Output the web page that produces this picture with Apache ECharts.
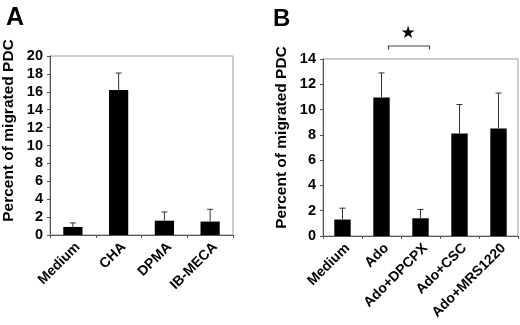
<!DOCTYPE html>
<html><head><meta charset="utf-8">
<script src="https://cdn.jsdelivr.net/npm/echarts@6/dist/echarts.min.js"></script>
<style>html,body{margin:0;padding:0;background:#fff}#c{width:520px;height:325px}</style>
</head><body><div id="c"></div>
<script>
const catsA = ['Medium', 'CHA', 'DPMA', 'IB-MECA'];
const valsA = [0.9, 16.2, 1.6, 1.5];
const errA = [0.45, 1.9, 0.97, 1.37];
const ticksA = [0, 2, 4, 6, 8, 10, 12, 14, 16, 18, 20];

const catsB = ['Medium', 'Ado', 'Ado+DPCPX', 'Ado+CSC', 'Ado+MRS1220'];
const valsB = [1.3, 10.95, 1.4, 8.1, 8.5];
const errB = [0.9, 1.95, 0.7, 2.3, 2.8];
const ticksB = [0, 2, 4, 6, 8, 10, 12, 14];

const yTitle = 'Percent of migrated PDC';
const FONT = '"Liberation Sans", Arial, sans-serif';

const chart = echarts.init(document.getElementById('c'), null, {renderer: 'canvas'});

function yAxisCfg(gi, ticks, pad) {
  return {
    gridIndex: gi, type: 'value', min: ticks[0], max: ticks[ticks.length - 1], interval: ticks[1] - ticks[0],
    name: yTitle, nameLocation: 'middle', nameGap: 33,
    nameTextStyle: {fontFamily: FONT, fontWeight: 'bold', fontSize: 15.5, color: '#000', padding: [0, 0, 0, pad]},
    axisLine: {show: true, lineStyle: {color: '#555', width: 1}},
    axisTick: {show: true, length: 3, lineStyle: {color: '#555'}},
    axisLabel: {fontFamily: FONT, fontWeight: 'bold', fontSize: 14.5, color: '#000', margin: 7},
    splitLine: {show: false}
  };
}
function xAxisCfg(gi, cats) {
  return {
    gridIndex: gi, type: 'category', data: cats, boundaryGap: true,
    axisLine: {show: true, lineStyle: {color: '#555', width: 1}},
    axisTick: {show: true, length: 3, inside: false, lineStyle: {color: '#555'}},
    axisLabel: {fontFamily: FONT, fontWeight: 'bold', fontSize: 14, color: '#000', rotate: 45, margin: 5, interval: 0, verticalAlign: 'top'}
  };
}
function errSeries(xi, yi, vals, errs) {
  return {
    type: 'custom', xAxisIndex: xi, yAxisIndex: yi, z: 5,
    data: vals.map((v, i) => [i, v, v + errs[i]]),
    renderItem: function (params, api) {
      const p0 = api.coord([api.value(0), api.value(1)]);
      const p1 = api.coord([api.value(0), api.value(2)]);
      const st = {stroke: '#333', lineWidth: 1};
      return {type: 'group', children: [
        {type: 'line', shape: {x1: p0[0], y1: p0[1], x2: p1[0], y2: p1[1]}, style: st},
        {type: 'line', shape: {x1: p1[0] - 3, y1: p1[1], x2: p1[0] + 3, y2: p1[1]}, style: st}
      ]};
    }
  };
}

chart.setOption({
  animation: false,
  title: [
    {text: 'A', left: 1, top: 1, textStyle: {fontFamily: FONT, fontWeight: 'bold', fontSize: 25, color: '#000'}},
    {text: 'B', left: 268, top: 2, textStyle: {fontFamily: FONT, fontWeight: 'bold', fontSize: 24, color: '#000'}}
  ],
  grid: [
    {left: 49, width: 184, top: 56, height: 179, show: true, borderColor: '#999', borderWidth: 1, backgroundColor: '#fff'},
    {left: 323, width: 195, top: 59, height: 177, show: true, borderColor: '#999', borderWidth: 1, backgroundColor: '#fff'}
  ],
  xAxis: [xAxisCfg(0, catsA), xAxisCfg(1, catsB)],
  yAxis: [yAxisCfg(0, ticksA, 30), yAxisCfg(1, ticksB, 20)],
  series: [
    {type: 'bar', xAxisIndex: 0, yAxisIndex: 0, data: valsA, barWidth: '42%', itemStyle: {color: '#000'}},
    errSeries(0, 0, valsA, errA),
    {type: 'bar', xAxisIndex: 1, yAxisIndex: 1, data: valsB, barWidth: '42%', itemStyle: {color: '#000'}},
    errSeries(1, 1, valsB, errB),
    {
      type: 'custom', xAxisIndex: 1, yAxisIndex: 1, clip: false, z: 6,
      data: [[1, 2]],
      renderItem: function (params, api) {
        const a = api.coord([api.value(0), 0]);
        const b = api.coord([api.value(1), 0]);
        const top = api.coord([0, 14])[1];
        const x1 = a[0] + 7, x2 = b[0] + 9, y = top - 13;
        const st = {stroke: '#444', lineWidth: 1.2, fill: null};
        return {type: 'group', children: [
          {type: 'polyline', shape: {points: [[x1, y + 3.5], [x1, y], [x2, y], [x2, y + 3.5]]}, style: st},
          {type: 'text', style: {text: '★', x: (x1 + x2) / 2 - 1, y: y - 12, align: 'center', verticalAlign: 'middle', fontSize: 17, fill: '#000', fontFamily: '"DejaVu Sans", sans-serif'}}
        ]};
      }
    }
  ]
});
</script></body></html>
